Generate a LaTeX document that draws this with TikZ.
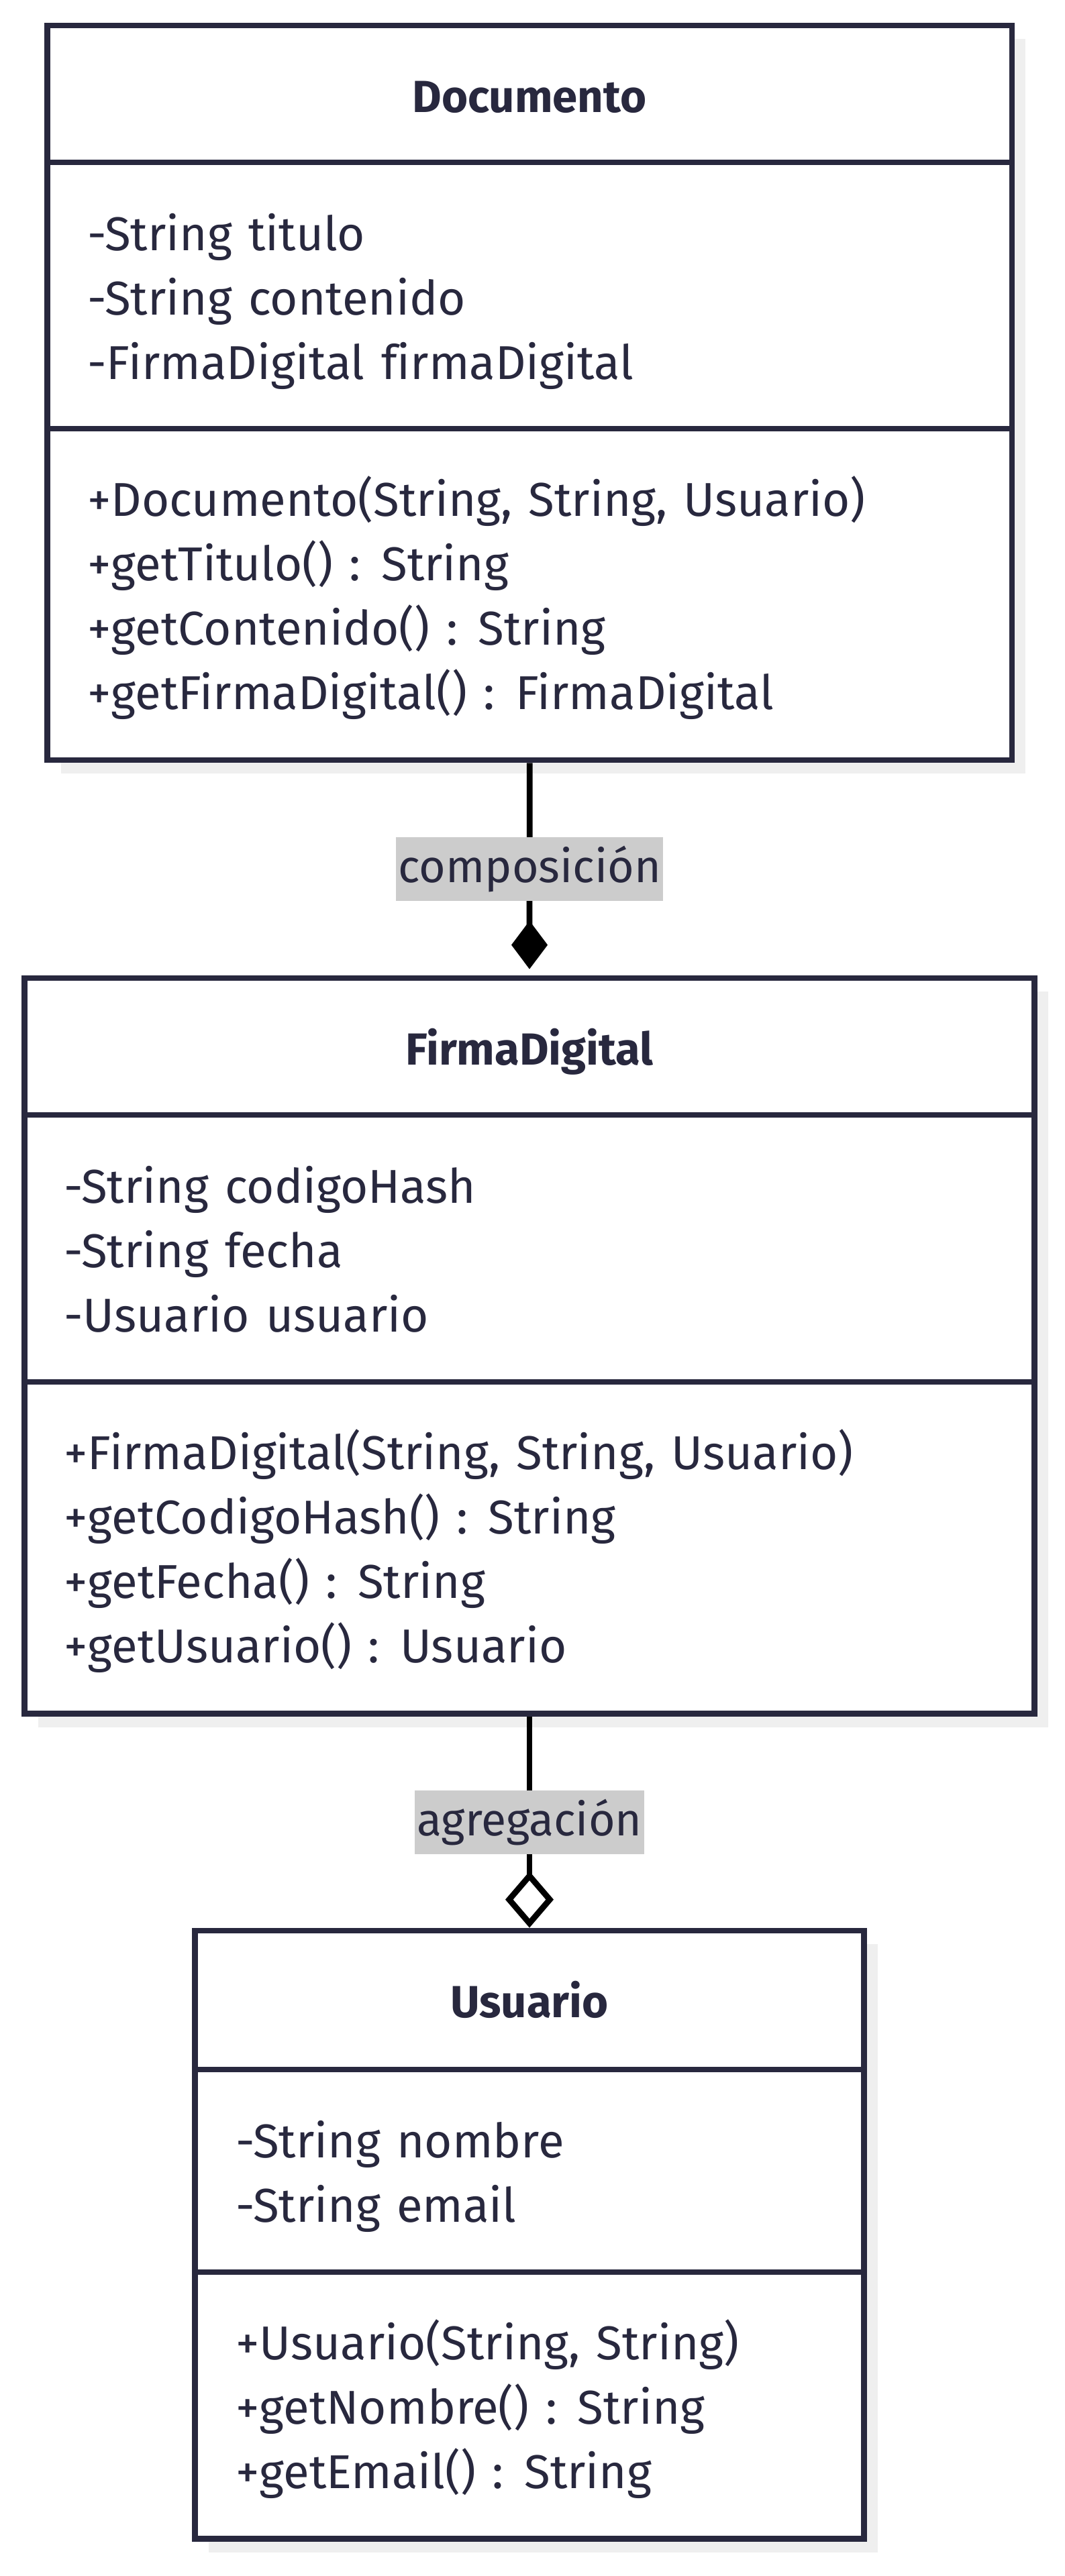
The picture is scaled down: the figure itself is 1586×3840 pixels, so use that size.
\documentclass[tikz,border=0pt]{standalone}
\usepackage{fontspec}
\setmainfont{Fira Sans}[Ligatures=NoCommon, WordSpace=1.3]
\usepackage{tikz}
\usetikzlibrary{arrows.meta}
\usetikzlibrary{shadows}

\definecolor{umlink}{HTML}{28283E}
\definecolor{umlshadow}{HTML}{EFEFEF}
\definecolor{umllabel}{HTML}{CCCCCC}

\tikzset{
  classbox/.style={draw=umlink, line width=4.4pt, fill=white, inner sep=0pt,
    drop shadow={shadow xshift=10pt, shadow yshift=-10pt, fill=umlshadow, opacity=1}},
  divider/.style={draw=umlink, line width=4.4pt},
  classname/.style={anchor=base, text=umlink, inner sep=0pt,
    font=\bfseries\fontsize{33.5pt}{40pt}\selectfont},
  member/.style={anchor=base west, text=umlink, inner sep=0pt,
    font=\fontsize{35.4pt}{40pt}\selectfont},
  relation/.style={draw=black, line width=4.4pt},
  relname/.style={fill=umllabel, text=umlink, inner xsep=1.8pt, inner ysep=0pt,
    minimum height=47.5pt, font=\fontsize{34pt}{40pt}\selectfont}
}

\begin{document}
\begin{tikzpicture}[x=0.5pt,y=-0.5pt]
\useasboundingbox (0,0) rectangle (1586,3840);

% Documento
\node [classbox, minimum width=718.75pt, minimum height=547.5pt] (doc) at (789.25,585.5) {};
\draw [divider] (doc.west |- 0,242) -- (doc.east |- 0,242);
\draw [divider] (doc.west |- 0,639) -- (doc.east |- 0,639);
\node [classname] (docName) at (789,167) {Documento};
\node [member] (docA1) at (130,373) {-String titulo};
\node [member] (docA2) at (130,469) {-String contenido};
\node [member] (docA3) at (130,565) {-FirmaDigital firmaDigital};
\node [member] (docM1) at (130,769) {+Documento(String, String, Usuario)};
\node [member] (docM2) at (130,865) {+getTitulo() : String};
\node [member] (docM3) at (130,961) {+getContenido() : String};
\node [member] (docM4) at (130,1057) {+getFirmaDigital() : FirmaDigital};

% FirmaDigital
\node [classbox, minimum width=752.5pt, minimum height=548.25pt] (firma) at (789,2006.25) {};
\draw [divider] (firma.west |- 0,1662) -- (firma.east |- 0,1662);
\draw [divider] (firma.west |- 0,2060) -- (firma.east |- 0,2060);
\node [classname] (firmaName) at (789,1587) {FirmaDigital};
\node [member] (firmaA1) at (95,1793) {-String codigoHash};
\node [member] (firmaA2) at (95,1889) {-String fecha};
\node [member] (firmaA3) at (95,1985) {-Usuario usuario};
\node [member] (firmaM1) at (95,2190) {+FirmaDigital(String, String, Usuario)};
\node [member] (firmaM2) at (95,2286) {+getCodigoHash() : String};
\node [member] (firmaM3) at (95,2382) {+getFecha() : String};
\node [member] (firmaM4) at (95,2478) {+getUsuario() : Usuario};

% Usuario
\node [classbox, minimum width=498.5pt, minimum height=453.25pt] (usuario) at (789,3331.25) {};
\draw [divider] (usuario.west |- 0,3085) -- (usuario.east |- 0,3085);
\draw [divider] (usuario.west |- 0,3387) -- (usuario.east |- 0,3387);
\node [classname] (usuarioName) at (789,3007) {Usuario};
\node [member] (usuarioA1) at (351,3216) {-String nombre};
\node [member] (usuarioA2) at (351,3312) {-String email};
\node [member] (usuarioM1) at (351,3517) {+Usuario(String, String)};
\node [member] (usuarioM2) at (351,3613) {+getNombre() : String};
\node [member] (usuarioM3) at (351,3709) {+getEmail() : String};

% relaciones
\draw [relation, -{Diamond[length=36pt, width=27pt]}, shorten >=4.5pt] (doc.south) -- (firma.north)
  node [relname, midway] (comp) {composición};
\draw [relation, -{Diamond[open, fill=white, length=42pt, width=36pt]}] (firma.south) -- (usuario.north)
  node [relname, midway] (agreg) {agregación};
\end{tikzpicture}
\end{document}
